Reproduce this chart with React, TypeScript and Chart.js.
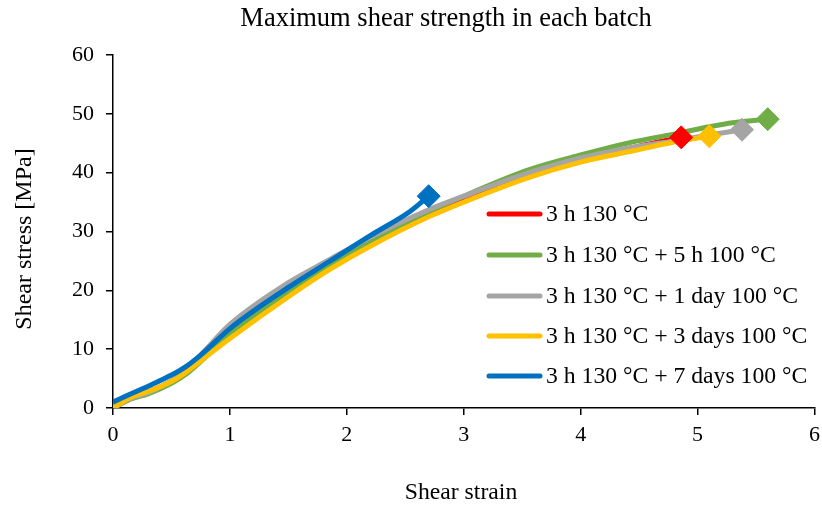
import React, { useEffect, useRef } from 'react';
import { Chart, registerables } from 'chart.js';

Chart.register(...registerables);

const chartTitle = 'Maximum shear strength in each batch';
const xAxisTitle = 'Shear strain';
const yAxisTitle = 'Shear stress [MPa]';

const seriesLabels = [
  '3 h 130 °C',
  '3 h 130 °C + 5 h 100 °C',
  '3 h 130 °C + 1 day 100 °C',
  '3 h 130 °C + 3 days 100 °C',
  '3 h 130 °C + 7 days 100 °C',
];
const seriesColors = ['#FF0000', '#70AD47', '#A5A5A5', '#FFC000', '#0070C0'];

const strainRed = [0, 0.15, 0.3, 0.5, 0.62, 0.75, 1, 1.5, 2, 2.5, 3, 3.5, 4, 4.5, 4.86];
const stressRed = [0, 1.7, 2.7, 4.5, 6.0, 8.2, 12.8, 20, 26, 31.2, 35.5, 39.2, 42.2, 44.5, 46];

const strainGreen = [0, 0.15, 0.3, 0.5, 0.62, 0.75, 1, 1.5, 2, 2.5, 3, 3.56, 4, 4.42, 4.86, 5.1, 5.3, 5.6];
const stressGreen = [0, 1.5, 2.4, 4.2, 5.7, 7.9, 12.5, 19.8, 26, 31.5, 36, 40.5, 43, 45.1, 46.8, 47.8, 48.5, 49.1];

const strainGray = [0, 0.15, 0.3, 0.5, 0.62, 0.75, 1, 1.5, 1.85, 2.2, 2.7, 3, 3.56, 4, 4.42, 4.8, 5.1, 5.38];
const stressGray = [0, 1.6, 2.6, 4.6, 6.4, 9.0, 14.2, 21.3, 25.2, 29, 33.7, 36, 40, 42.5, 44.2, 45.4, 46.4, 47.3];

const strainYellow = [0, 0.15, 0.3, 0.5, 0.62, 0.75, 1, 1.5, 1.85, 2.2, 2.7, 3, 3.56, 4, 4.42, 4.8, 5.1];
const stressYellow = [0, 1.8, 2.8, 4.5, 6.0, 8.0, 11.8, 18.9, 23.5, 27.5, 32.5, 35, 39.2, 41.8, 43.6, 45.2, 46.2];

const strainBlue = [0, 0.13, 0.3, 0.5, 0.62, 0.75, 1, 1.5, 1.85, 2.2, 2.54, 2.7];
const stressBlue = [1.0, 2.2, 3.7, 5.6, 7.0, 9.0, 13.5, 20.5, 24.9, 29.3, 33.4, 36];

const strainSeries = [strainRed, strainGreen, strainGray, strainYellow, strainBlue];
const stressSeries = [stressRed, stressGreen, stressGray, stressYellow, stressBlue];

const xTicks = [0, 1, 2, 3, 4, 5, 6];
const yTicks = [0, 10, 20, 30, 40, 50, 60];

const FONT = "'Liberation Serif', 'Times New Roman', serif";

const textPlugin = {
  id: 'customText',
  afterDraw(chart: any) {
    const ctx = chart.ctx as CanvasRenderingContext2D;
    ctx.save();
    ctx.fillStyle = '#000';
    ctx.font = `26.5px ${FONT}`;
    ctx.textAlign = 'center';
    ctx.textBaseline = 'middle';
    ctx.fillText(chartTitle, 446, 19);
    ctx.font = `23.7px ${FONT}`;
    ctx.fillText(xAxisTitle, 461, 493);
    ctx.translate(25, 239);
    ctx.rotate(-Math.PI / 2);
    ctx.font = `24px ${FONT}`;
    ctx.fillText(yAxisTitle, 0, 0);
    ctx.restore();

    ctx.save();
    const rows = [214, 255, 296, 336, 376];
    for (let i = 0; i < seriesLabels.length; i++) {
      const y = rows[i];
      ctx.strokeStyle = seriesColors[i];
      ctx.lineWidth = 5;
      ctx.lineCap = 'round';
      ctx.beginPath();
      ctx.moveTo(489, y);
      ctx.lineTo(540, y);
      ctx.stroke();
      ctx.fillStyle = '#000';
      ctx.font = `23.7px ${FONT}`;
      ctx.textAlign = 'left';
      ctx.textBaseline = 'middle';
      ctx.fillText(seriesLabels[i], 546, y + 1);
    }
    ctx.restore();
  },
};

export default function App() {
  const canvasRef = useRef<HTMLCanvasElement | null>(null);

  useEffect(() => {
    if (!canvasRef.current) return;
    const lineSets = seriesLabels.map((label, i) => {
      const xs = strainSeries[i];
      const ys = stressSeries[i];
      return {
        label,
        data: xs.map((x, j) => ({ x, y: ys[j] })),
        borderColor: seriesColors[i],
        backgroundColor: seriesColors[i],
        borderWidth: 5,
        cubicInterpolationMode: 'monotone' as const,
        pointRadius: 0,
        pointHoverRadius: 0,
        order: 10 - i,
      };
    });
    const markerSets = seriesLabels.map((label, i) => {
      const xs = strainSeries[i];
      const ys = stressSeries[i];
      const last = xs.length - 1;
      return {
        label: label + ' (max)',
        data: [{ x: xs[last], y: ys[last] }],
        borderColor: seriesColors[i],
        backgroundColor: seriesColors[i],
        showLine: false,
        pointStyle: 'rectRot' as const,
        pointRadius: 11.5,
        pointHoverRadius: 11.5,
        pointBorderWidth: 1,
        order: 5 - i,
      };
    });

    const chart = new Chart(canvasRef.current, {
      type: 'line',
      data: { datasets: [...lineSets, ...markerSets] },
      plugins: [textPlugin],
      options: {
        animation: false,
        responsive: false,
        layout: { padding: { left: 0, top: 55, right: 0, bottom: 0 } },
        plugins: {
          legend: { display: false },
          title: { display: false },
          tooltip: { enabled: false },
        },
        scales: {
          x: {
            type: 'linear',
            min: 0,
            max: 6,
            afterFit: (s: any) => { s.height = 102; s.paddingLeft = 0; s.paddingRight = 0; },
            afterBuildTicks: (s: any) => { s.ticks = xTicks.map((v) => ({ value: v })); },
            grid: { drawOnChartArea: false, drawTicks: true, tickLength: 7, color: '#000', lineWidth: 1.5 },
            border: { color: '#000', width: 1.5 },
            ticks: { color: '#000', font: { family: FONT, size: 22 }, padding: 7, maxRotation: 0 },
          },
          y: {
            type: 'linear',
            min: 0,
            max: 60,
            afterFit: (s: any) => { s.width = 113; s.paddingTop = 0; s.paddingBottom = 0; },
            afterBuildTicks: (s: any) => { s.ticks = yTicks.map((v) => ({ value: v })); },
            grid: { drawOnChartArea: false, drawTicks: true, tickLength: 7, color: '#000', lineWidth: 1.5 },
            border: { color: '#000', width: 1.5 },
            ticks: { color: '#000', font: { family: FONT, size: 22 }, padding: 12 },
          },
        },
      },
    });
    return () => chart.destroy();
  }, []);

  return (
    <div style={{ position: 'fixed', left: 0, top: 0, width: 822, height: 510, background: '#fff', overflow: 'hidden' }}>
      <canvas ref={canvasRef} width={827} height={510} style={{ width: 827, height: 510, display: 'block' }} />
    </div>
  );
}
